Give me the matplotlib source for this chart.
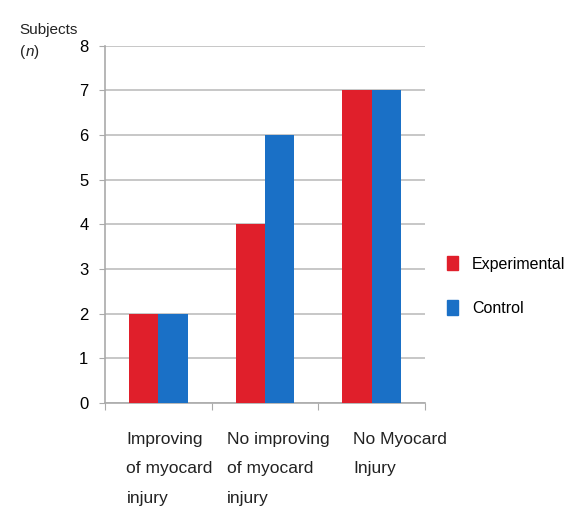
import matplotlib.pyplot as plt
import numpy as np
from matplotlib.patches import Patch

categories = ["Improving\nof myocard\ninjury", "No improving\nof myocard\ninjury", "No Myocard\nInjury"]
experimental = [2, 4, 7]
control = [2, 6, 7]
yticks = list(range(0, 9))

red = "#e01f2b"
blue = "#1a70c6"

plt.rcParams['font.family'] = ['Liberation Sans', 'DejaVu Sans']

fig = plt.figure(figsize=(5.65, 5.2), dpi=100)
ax = fig.add_axes([0.186, 0.225, 0.566, 0.687])

x = np.arange(len(categories))
w = 0.275
ax.bar(x - w / 2, experimental, w, color=red, zorder=3)
ax.bar(x + w / 2, control, w, color=blue, zorder=3)

ax.set_xlim(-0.5, 2.5)
ax.set_ylim(0, 8)
ax.set_yticks(yticks)
ax.tick_params(axis='y', labelsize=12, length=4, color='#aaaaaa', pad=8)
ax.yaxis.grid(True, color='#bdbdbd', linewidth=1.2, zorder=0)

# category ticks sit between the groups
ax.set_xticks([-0.5, 0.5, 1.5, 2.5])
ax.set_xticklabels([])
ax.tick_params(axis='x', length=5, color='#aaaaaa')

for s in ['top', 'right']:
    ax.spines[s].set_visible(False)
for s in ['left', 'bottom']:
    ax.spines[s].set_color('#aaaaaa')
    ax.spines[s].set_linewidth(1.2)

# multi-line category labels, left aligned under each group
offsets = [-0.3, -0.36, -0.17]
for i, lab in enumerate(categories):
    ax.text(i + offsets[i], -0.65, lab, ha='left', va='top', fontsize=12.5,
            linespacing=2.2, color='#222222')

fig.text(0.035, 0.935, "Subjects", fontsize=11, color='#222222')
fig.text(0.035, 0.893, "(", fontsize=11, color='#222222')
fig.text(0.046, 0.893, "n", fontsize=11, style='italic', color='#222222')
fig.text(0.060, 0.893, ")", fontsize=11, color='#222222')

handles = [Patch(color=red), Patch(color=blue)]
fig.legend(handles, ["Experimental", "Control"], loc='center left',
           bbox_to_anchor=(0.765, 0.45), frameon=False, fontsize=11.5,
           handlelength=0.7, handleheight=1.0, labelspacing=1.8, handletextpad=0.9)

fig.savefig("out.png", dpi=100, facecolor='white')
